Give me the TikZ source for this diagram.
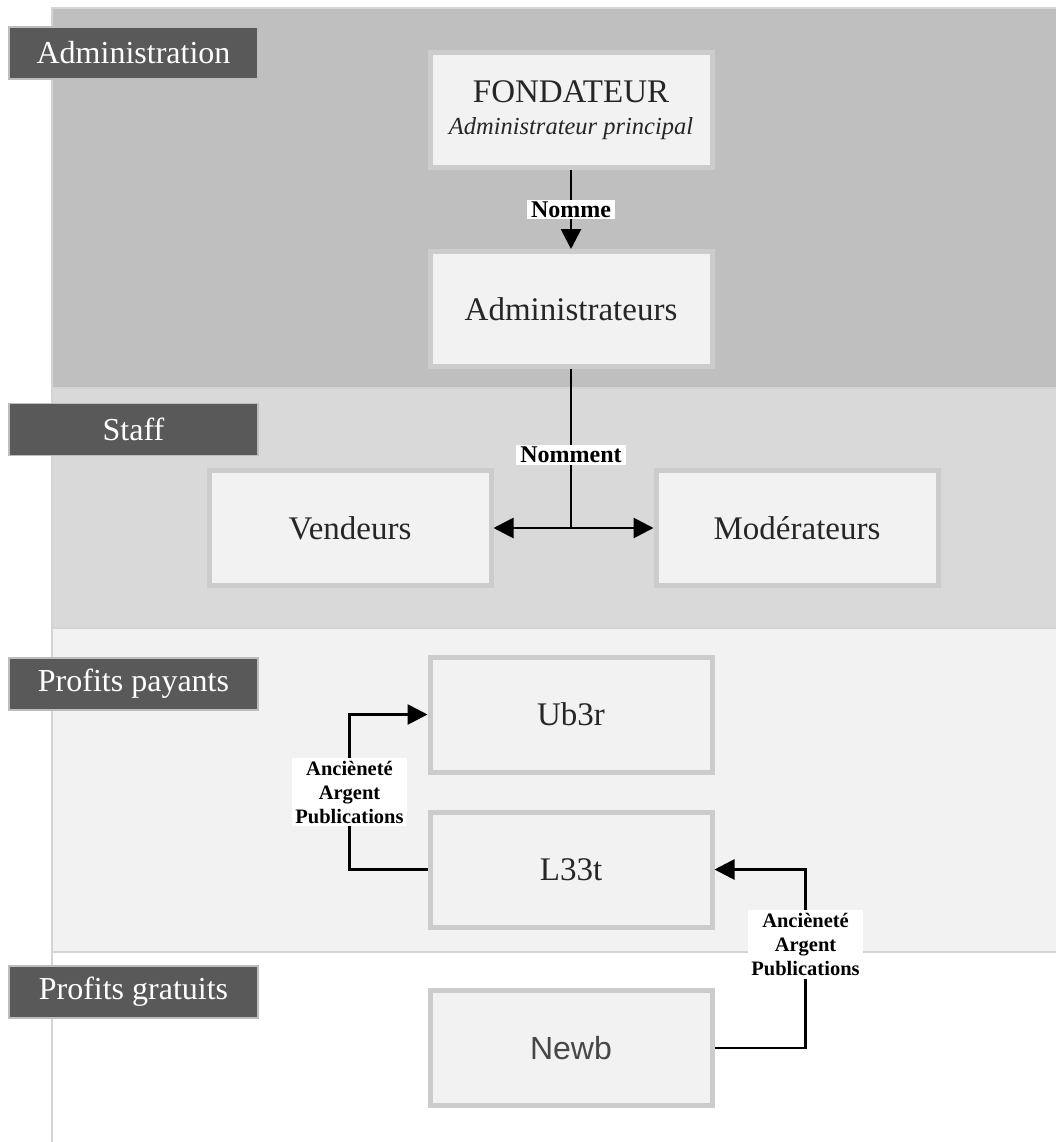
\documentclass[tikz,border=0pt]{standalone}
\usepackage{fontspec}
\setmainfont{Liberation Serif}
\setsansfont{Liberation Sans}
\usetikzlibrary{positioning, arrows.meta, calc}

\definecolor{laneadmin}{HTML}{BFBFBF}
\definecolor{lanestaff}{HTML}{D9D9D9}
\definecolor{lanepay}{HTML}{F2F2F2}
\definecolor{laneline}{HTML}{D4D4D4}
\definecolor{tagfill}{HTML}{595959}
\definecolor{tagline}{HTML}{BDBDBD}
\definecolor{boxfill}{HTML}{F2F2F2}
\definecolor{boxline}{HTML}{CCCCCC}
\definecolor{ink}{HTML}{262626}

\tikzset{
    role/.style={draw=boxline, fill=boxfill, line width=5pt, minimum width=282pt,
        minimum height=115pt, inner sep=0pt, align=center, text=ink,
        font=\fontsize{33}{40}\selectfont},
    tag/.style={draw=tagline, fill=tagfill, line width=1.5pt, minimum width=249pt,
        minimum height=52pt, inner sep=0pt, text=white,
        font=\fontsize{32}{36}\selectfont},
    wire/.style={line width=2.8pt, black},
    link/.style={wire, -{Triangle[length=20pt, width=20pt]}},
    lbl/.style={fill=white, inner xsep=4pt, inner ysep=2pt,
        font=\bfseries\fontsize{24}{27}\selectfont},
    crit/.style={fill=white, inner xsep=3pt, inner ysep=3pt, align=center,
        font=\bfseries\fontsize{20.5}{24}\selectfont}
}

\begin{document}
\begin{tikzpicture}[x=1pt, y=-1pt]
    \useasboundingbox (0,0) rectangle (1055,1142);

    % Lanes
    \draw[laneline, line width=2pt, fill=laneadmin] (52,8) rectangle (1065,388);
    \draw[laneline, line width=2pt, fill=lanestaff] (52,388) rectangle (1065,628);
    \draw[laneline, line width=2pt, fill=lanepay] (52,628) rectangle (1065,952);
    \draw[laneline, line width=2pt, fill=white] (52,952) rectangle (1065,1160);

    % Lane tags
    \node[tag] (tadmin) at (133.5,53) {Administration};
    \node[tag] (tstaff) at (133.5,429.5) {Staff};
    \node[tag] (tpay) at (133.5,684) {Profits payants};
    \node[tag] (tfree) at (133.5,992) {Profits gratuits};

    % Roles
    \node[role] (fond) at (571,110) {\raisebox{-4pt}{FONDATEUR}\\[-4pt]{\itshape\fontsize{24.5}{28}\selectfont Administrateur principal}};
    \node[role, below=79pt of fond] (adm) {Administrateurs};
    \node[role] (vend) at (350,528) {Vendeurs};
    \node[role] (mod) at (797,528) {Modérateurs};
    \node[role] (ub3r) at (571,714.5) {Ub3r};
    \node[role, below=35pt of ub3r] (l33t) {L33t};
    \node[role, font=\sffamily\fontsize{32}{36}\selectfont, text=ink!85] (newb) at (571,1048) {Newb};

    % Connectors
    \draw[link] (fond) -- node[lbl] {Nomme} (adm);
    \draw[wire] (adm.south) -- node[lbl, pos=0.54] {Nomment} (adm.south |- vend.east) coordinate (split);
    \draw[link] (split) -- (vend.east);
    \draw[link] (split) -- (mod.west);

    \draw[link] (l33t.west) -- ++(-78,0) coordinate (bendup)
        -- node[crit] {Ancièneté\\Argent\\Publications} (bendup |- ub3r.west) -- (ub3r.west);
    \draw[link] (newb.east) -- ++(91,0) coordinate (bendnewb)
        -- node[crit, pos=0.58] {Ancièneté\\Argent\\Publications} (bendnewb |- l33t.east) -- (l33t.east);

\end{tikzpicture}
\end{document}
